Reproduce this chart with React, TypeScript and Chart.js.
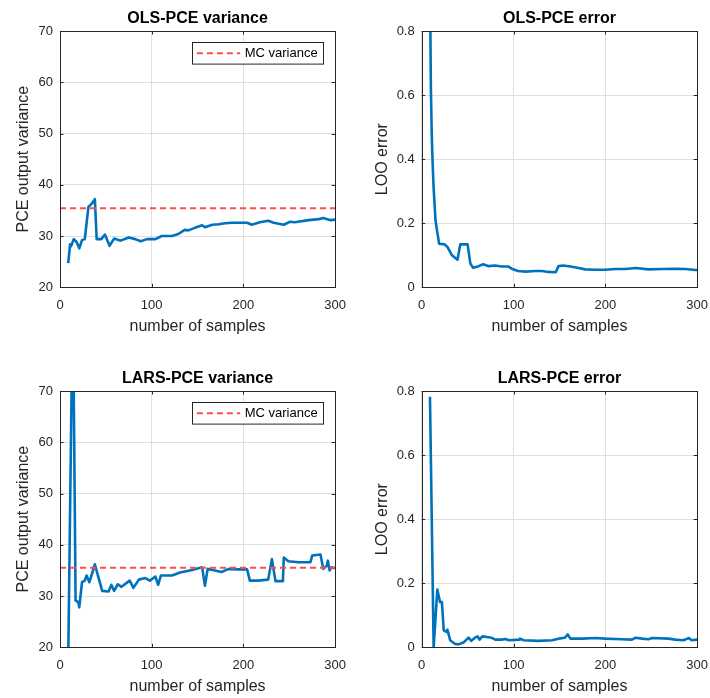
import React, { useEffect, useRef } from 'react';
import { Chart, registerables } from 'chart.js';

Chart.register(...registerables);

const FONT = '"Liberation Sans", Arial, Helvetica, sans-serif';
const BLUE = '#0072BD';
const RED = '#FF4D4D';
const AXIS = '#262626';
const GRID = '#dfdfdf';

// ---- tick labels ----
const sampleTicks = [0, 100, 200, 300];
const varianceTicks = [20, 30, 40, 50, 60, 70];
const errorTicks = [0, 0.2, 0.4, 0.6, 0.8];

// ---- reference Monte Carlo variance ----
const mcVarianceOls = 35.4;
const mcVarianceLars = 35.5;

// ---- OLS-PCE variance ----
const olsVarX = [9, 11, 12, 15, 18, 21, 24, 27, 31, 35, 38, 40, 45, 49, 54, 59, 66, 75, 82, 88, 95, 104, 111, 122, 129, 136, 140, 147, 155, 158, 166, 173, 180, 187, 204, 209, 218, 227, 233, 244, 251, 256, 271, 282, 287, 295, 300];
const olsVarY = [24.7, 28.4, 28.0, 29.4, 28.9, 27.6, 29.2, 29.4, 35.7, 36.4, 37.2, 29.4, 29.4, 30.3, 28.1, 29.5, 29.1, 29.7, 29.4, 29.0, 29.4, 29.4, 30.0, 30.0, 30.4, 31.2, 31.1, 31.6, 32.1, 31.7, 32.2, 32.3, 32.5, 32.6, 32.6, 32.2, 32.7, 33.0, 32.6, 32.2, 32.8, 32.7, 33.1, 33.3, 33.5, 33.1, 33.2];

// ---- OLS-PCE LOO error ----
const olsErrX = [9, 10, 11, 12, 13, 15, 16, 19, 25, 28, 33, 36, 39, 42, 50, 53, 56, 62, 67, 73, 80, 87, 94, 98, 105, 113, 124, 131, 138, 146, 149, 154, 162, 171, 178, 189, 200, 211, 222, 233, 247, 262, 276, 287, 298, 300];
const olsErrY = [0.95, 0.62, 0.47, 0.38, 0.31, 0.21, 0.19, 0.136, 0.134, 0.126, 0.100, 0.093, 0.086, 0.134, 0.134, 0.074, 0.061, 0.066, 0.072, 0.066, 0.068, 0.065, 0.065, 0.058, 0.051, 0.049, 0.051, 0.051, 0.048, 0.047, 0.066, 0.068, 0.065, 0.060, 0.056, 0.055, 0.055, 0.057, 0.057, 0.060, 0.056, 0.057, 0.058, 0.057, 0.054, 0.054];

// ---- LARS-PCE variance ----
const larsVarX = [9, 14, 17, 20, 21, 24, 27, 29, 32, 35, 38, 42, 46, 53, 56, 59, 63, 67, 76, 80, 86, 93, 98, 104, 107, 110, 122, 131, 136, 144, 155, 158, 161, 169, 176, 184, 193, 204, 207, 216, 227, 231, 235, 243, 244, 249, 260, 273, 275, 284, 287, 291, 292, 294, 296, 300];
const larsVarY = [18, 90, 29.1, 28.8, 27.8, 32.7, 33.0, 34.0, 32.7, 34.4, 36.2, 33.6, 31.0, 30.9, 32.2, 31.0, 32.3, 31.8, 33.0, 31.6, 33.2, 33.5, 33.0, 33.8, 32.2, 34.0, 34.0, 34.6, 34.8, 35.1, 35.6, 32.0, 35.3, 35.0, 34.7, 35.3, 35.2, 35.2, 33.0, 33.0, 33.2, 37.2, 32.9, 32.9, 37.5, 36.8, 36.6, 36.6, 37.9, 38.1, 35.3, 35.9, 36.9, 35.0, 35.6, 35.4];

// ---- LARS-PCE LOO error ----
const larsErrX = [9, 13, 17, 20, 22, 24, 27, 28, 31, 36, 40, 46, 51, 54, 58, 61, 63, 66, 71, 76, 80, 87, 91, 95, 106, 107, 111, 127, 142, 149, 156, 159, 162, 175, 189, 200, 218, 229, 233, 240, 247, 251, 269, 276, 284, 287, 291, 294, 300];
const larsErrY = [0.782, 0.0, 0.18, 0.141, 0.141, 0.053, 0.048, 0.055, 0.022, 0.011, 0.009, 0.016, 0.030, 0.020, 0.030, 0.034, 0.024, 0.034, 0.032, 0.030, 0.024, 0.024, 0.026, 0.022, 0.024, 0.027, 0.022, 0.020, 0.022, 0.027, 0.030, 0.040, 0.027, 0.027, 0.029, 0.027, 0.025, 0.024, 0.030, 0.027, 0.025, 0.029, 0.027, 0.024, 0.022, 0.024, 0.029, 0.022, 0.024];

type Panel = {
  title: string;
  yLabel: string;
  xs: number[];
  ys: number[];
  yTicks: number[];
  mc: number | null;
  left: number;
  top: number;
  width: number;
  height: number;
  yAxisW: number;
  yTitlePad: number;
};

const boxPlugin = {
  id: 'matlabBox',
  afterDatasetsDraw(chart: any) {
    const { ctx, chartArea: a, scales } = chart;
    ctx.save();
    ctx.strokeStyle = AXIS;
    ctx.lineWidth = 1;
    ctx.beginPath();
    const tl = 3.5;
    for (const t of scales.x.ticks) {
      const px = Math.round(scales.x.getPixelForValue(t.value)) + 0.5;
      ctx.moveTo(px, a.bottom);
      ctx.lineTo(px, a.bottom - tl);
      ctx.moveTo(px, a.top);
      ctx.lineTo(px, a.top + tl);
    }
    for (const t of scales.y.ticks) {
      const py = Math.round(scales.y.getPixelForValue(t.value)) + 0.5;
      ctx.moveTo(a.left, py);
      ctx.lineTo(a.left + tl, py);
      ctx.moveTo(a.right, py);
      ctx.lineTo(a.right - tl, py);
    }
    ctx.stroke();
    ctx.strokeRect(Math.round(a.left) + 0.5, Math.round(a.top) + 0.5, Math.round(a.right - a.left), Math.round(a.bottom - a.top));

    const mcOpt = chart.options.plugins.mcLegend;
    if (mcOpt && mcOpt.show) {
      const w = 131;
      const h = 21.6;
      const x0 = Math.round(a.right - 11.7 - w) + 0.5;
      const y0 = Math.round(a.top + 10.7) + 0.5;
      ctx.fillStyle = '#ffffff';
      ctx.fillRect(x0, y0, w, h);
      ctx.strokeStyle = AXIS;
      ctx.lineWidth = 1;
      ctx.strokeRect(x0, y0, w, h);
      const cy = y0 + h / 2;
      ctx.strokeStyle = RED;
      ctx.lineWidth = 2;
      ctx.setLineDash([6, 4]);
      ctx.beginPath();
      ctx.moveTo(x0 + 4.4, cy);
      ctx.lineTo(x0 + 47.7, cy);
      ctx.stroke();
      ctx.setLineDash([]);
      ctx.fillStyle = '#000000';
      ctx.font = `13px ${FONT}`;
      ctx.textBaseline = 'middle';
      ctx.textAlign = 'left';
      ctx.fillText('MC variance', x0 + 52.2, cy + 0.5);
    }
    ctx.restore();
  },
};

function buildConfig(p: Panel): any {
  const datasets: any[] = [];
  if (p.mc !== null) {
    datasets.push({
      data: [{ x: 0, y: p.mc }, { x: 300, y: p.mc }],
      borderColor: RED,
      borderWidth: 2,
      borderDash: [6, 4],
      pointRadius: 0,
      tension: 0,
      fill: false,
      order: 0,
      clip: 0,
    });
  }
  datasets.push({
    data: p.xs.map((x, i) => ({ x, y: p.ys[i] })),
    borderColor: BLUE,
    borderWidth: 2.6,
    pointRadius: 0,
    tension: 0,
    fill: false,
    order: 1,
    clip: 0,
    borderJoinStyle: 'round',
  });
  const xAxisH = p.height - 287.3;
  return {
    type: 'line',
    data: { datasets },
    options: {
      animation: false,
      responsive: false,
      devicePixelRatio: 1,
      events: [],
      layout: { padding: { left: 0, right: 0, top: 0, bottom: 0 } },
      plugins: {
        legend: { display: false },
        tooltip: { enabled: false },
        title: {
          display: true,
          text: p.title,
          color: '#000000',
          fullSize: false,
          font: { family: FONT, size: 16, weight: 'bold' },
          padding: { top: 8.9, bottom: 2.9 },
        },
        mcLegend: { show: p.mc !== null },
      },
      scales: {
        x: {
          type: 'linear',
          min: 0,
          max: 300,
          afterBuildTicks: (s: any) => {
            s.ticks = sampleTicks.map((v) => ({ value: v }));
          },
          grid: { color: GRID, drawTicks: false, lineWidth: 1 },
          border: { display: false },
          ticks: {
            padding: 10,
            color: AXIS,
            font: { family: FONT, size: 13 },
            maxRotation: 0,
            autoSkip: false,
          },
          title: {
            display: true,
            text: 'number of samples',
            color: AXIS,
            font: { family: FONT, size: 16 },
            padding: { top: 0, bottom: 2 },
          },
          afterFit: (s: any) => {
            s.height = xAxisH;
          },
        },
        y: {
          type: 'linear',
          min: p.yTicks[0],
          max: p.yTicks[p.yTicks.length - 1],
          afterBuildTicks: (s: any) => {
            s.ticks = p.yTicks.map((v) => ({ value: v }));
          },
          grid: { color: GRID, drawTicks: false, lineWidth: 1 },
          border: { display: false },
          ticks: {
            padding: 7,
            color: AXIS,
            font: { family: FONT, size: 13 },
            autoSkip: false,
            callback: (v: any) => String(Math.round(Number(v) * 10) / 10),
          },
          title: {
            display: true,
            text: p.yLabel,
            color: AXIS,
            font: { family: FONT, size: 16 },
            padding: { top: p.yTitlePad, bottom: 0 },
          },
          afterFit: (s: any) => {
            s.width = p.yAxisW;
          },
        },
      },
    },
    plugins: [boxPlugin],
  };
}

const panels: Panel[] = [
  {
    title: 'OLS-PCE variance', yLabel: 'PCE output variance', xs: olsVarX, ys: olsVarY,
    yTicks: varianceTicks, mc: mcVarianceOls,
    left: 0, top: 0, width: 356, height: 338, yAxisW: 60, yTitlePad: 13.7,
  },
  {
    title: 'OLS-PCE error', yLabel: 'LOO error', xs: olsErrX, ys: olsErrY,
    yTicks: errorTicks, mc: null,
    left: 360, top: 0, width: 358, height: 338, yAxisW: 61.7, yTitlePad: 12.9,
  },
  {
    title: 'LARS-PCE variance', yLabel: 'PCE output variance', xs: larsVarX, ys: larsVarY,
    yTicks: varianceTicks, mc: mcVarianceLars,
    left: 0, top: 360, width: 356, height: 338, yAxisW: 60, yTitlePad: 13.7,
  },
  {
    title: 'LARS-PCE error', yLabel: 'LOO error', xs: larsErrX, ys: larsErrY,
    yTicks: errorTicks, mc: null,
    left: 360, top: 360, width: 358, height: 338, yAxisW: 61.7, yTitlePad: 12.9,
  },
];

function PanelChart({ p }: { p: Panel }) {
  const ref = useRef<HTMLCanvasElement | null>(null);
  useEffect(() => {
    if (!ref.current) return;
    const chart = new Chart(ref.current, buildConfig(p));
    return () => chart.destroy();
  }, [p]);
  return (
    <canvas
      ref={ref}
      width={p.width}
      height={p.height}
      style={{ position: 'absolute', left: p.left, top: p.top, width: p.width, height: p.height }}
    />
  );
}

export default function App() {
  useEffect(() => {
    document.body.style.margin = '0';
  }, []);
  return (
    <div
      style={{
        position: 'absolute',
        left: 0,
        top: 0,
        width: 710,
        height: 698,
        overflow: 'hidden',
        background: '#ffffff',
      }}
    >
      {panels.map((p, i) => (
        <PanelChart key={i} p={p} />
      ))}
    </div>
  );
}
